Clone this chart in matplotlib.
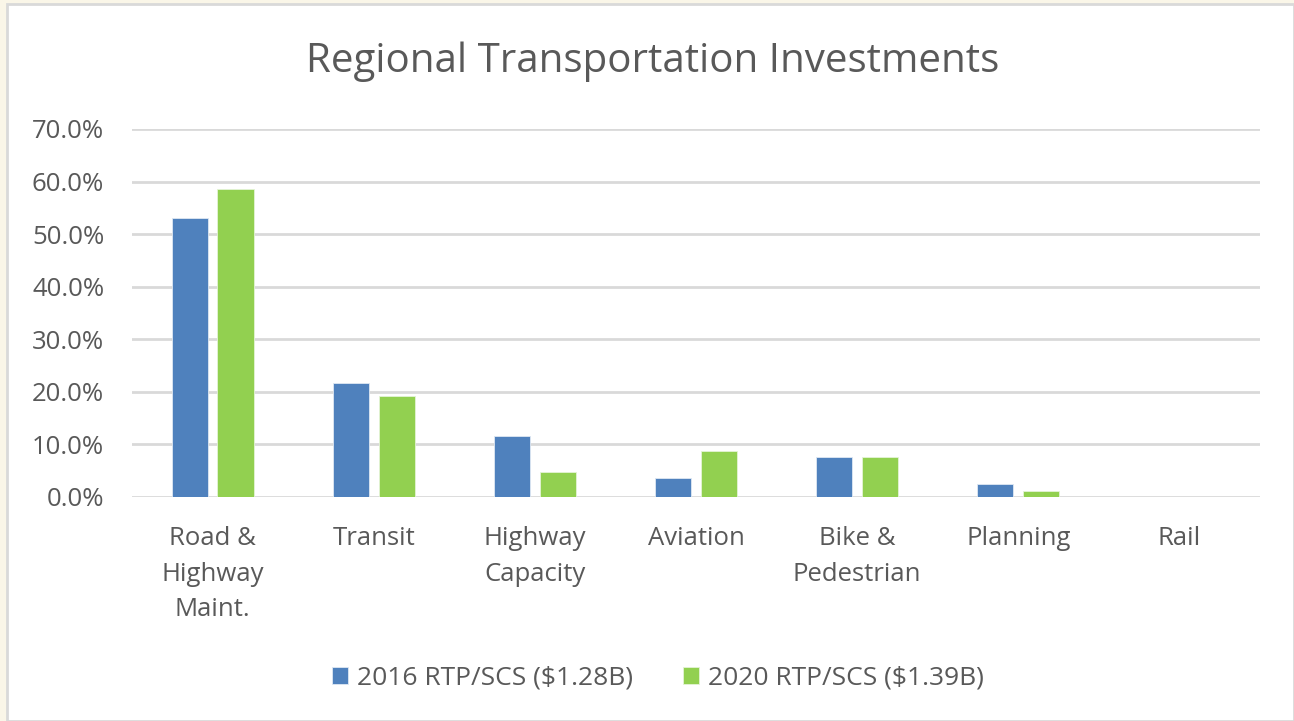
import matplotlib
matplotlib.use("Agg")
import matplotlib.pyplot as plt
from matplotlib.patches import Rectangle
import numpy as np

categories = ["Road &\nHighway\nMaint.", "Transit", "Highway\nCapacity", "Aviation",
              "Bike &\nPedestrian", "Planning", "Rail"]
series_names = ["2016 RTP/SCS ($1.28B)", "2020 RTP/SCS ($1.39B)"]
values_2016 = [53.0, 21.7, 11.6, 3.6, 7.6, 2.4, 0.0]
values_2020 = [58.5, 19.3, 4.75, 8.7, 7.6, 1.1, 0.0]
yticks = [0, 10, 20, 30, 40, 50, 60, 70]

plt.rcParams['font.family'] = ['Open Sans', 'DejaVu Sans']
W, H = 1294, 721
fig = plt.figure(figsize=(W / 100, H / 100), dpi=100)
fig.patch.set_facecolor("#FAF6E8")
# white chart area with grey border
fig.patches.append(Rectangle((7 / W, 0), 1 - 7 / W, 1 - 4 / H, transform=fig.transFigure,
                             facecolor="white", edgecolor="#D9D9D9", linewidth=2, zorder=-5))

ax = fig.add_axes([132 / W, 1 - 497 / H, (1260 - 132) / W, (497 - 129) / H])
ax.set_facecolor("none")
x = np.arange(len(categories))
bw = 0.224
gap = 0.06
c1, c2 = "#4F81BD", "#92D050"
ax.bar(x - (bw + gap) / 2, values_2016, bw, color=c1, label=series_names[0], zorder=3,
       edgecolor="#dfe8f3", linewidth=0.6)
ax.bar(x + (bw + gap) / 2, values_2020, bw, color=c2, label=series_names[1], zorder=3,
       edgecolor="#e4f3d6", linewidth=0.6)

ax.set_xlim(-0.5, len(categories) - 0.5)
ax.set_ylim(0, 70)
ax.set_yticks(yticks)
ax.set_yticklabels([f"{v:.1f}%" for v in yticks])
ax.yaxis.grid(True, color="#D9D9D9", linewidth=2, zorder=0)
ax.set_axisbelow(True)
for s in ax.spines.values():
    s.set_visible(False)
ax.tick_params(axis="y", length=0, pad=20, labelsize=18.5, labelcolor="#595959")
ax.set_xticks(x)
ax.set_xticklabels(categories, fontsize=18.5, color="#595959", linespacing=1.55, va="top")
ax.tick_params(axis="x", length=0, pad=21)

fig.text(653 / W, 1 - 72 / H, "Regional Transportation Investments", ha="center", va="baseline",
         fontsize=29, color="#595959")

leg = fig.legend(loc="center", bbox_to_anchor=(658 / W, 1 - 678 / H), ncol=2, frameon=False,
                 fontsize=19, labelcolor="#595959", handlelength=0.6, handleheight=0.6,
                 handletextpad=0.35, columnspacing=1.9)

fig.savefig("out.png", dpi=100, facecolor=fig.get_facecolor())
